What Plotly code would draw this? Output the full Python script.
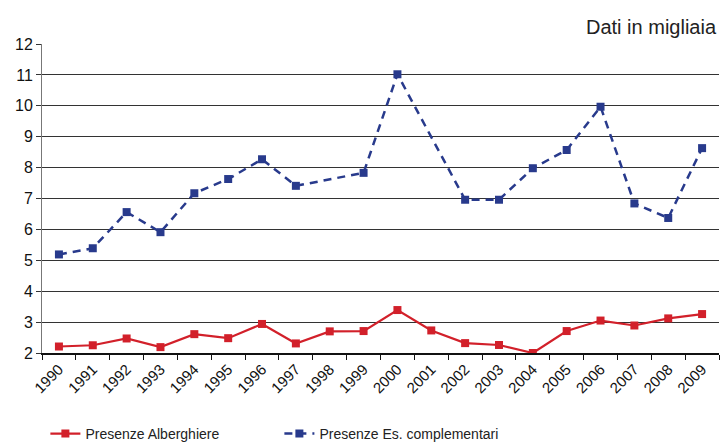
import plotly.graph_objects as go

years = [str(y) for y in range(1990, 2010)]
alberghiere = [2.21, 2.25, 2.47, 2.19, 2.61, 2.48, 2.94, 2.31, 2.70, 2.71,
               3.39, 2.73, 2.32, 2.26, 2.00, 2.71, 3.05, 2.89, 3.12, 3.26]
complementari = [5.19, 5.39, 6.56, 5.91, 7.17, 7.63, 8.27, 7.41, None, 7.83,
                 11.02, None, 6.96, 6.96, 7.98, 8.57, 9.97, 6.84, 6.37, 8.63]
y_ticks = list(range(2, 13))

RED = "#d2202a"
BLUE = "#283a8c"
xs = list(range(len(years)))

fig = go.Figure()
fig.add_trace(go.Scatter(
    x=xs, y=alberghiere, name="Presenze Alberghiere", mode="lines+markers",
    line=dict(color=RED, width=2.2),
    marker=dict(symbol="square", size=8, color=RED),
))
fig.add_trace(go.Scatter(
    x=xs, y=complementari, name="Presenze Es. complementari", mode="lines+markers",
    connectgaps=True,
    line=dict(color=BLUE, width=2.5, dash="8px,6px"),
    marker=dict(symbol="square", size=8, color=BLUE),
))

fig.update_layout(
    width=722, height=442,
    margin=dict(l=42, r=3, t=44, b=89, autoexpand=False),
    paper_bgcolor="white", plot_bgcolor="white",
    font=dict(family="Liberation Sans, Arial, sans-serif", color="#1a1a1a", size=14),
    showlegend=True,
    legend=dict(
        orientation="h", x=0.005, xanchor="left", y=-0.262, yanchor="middle",
        font=dict(family="Liberation Sans, Arial, sans-serif", size=14, color="#222"),
        entrywidth=189, itemwidth=30, traceorder="normal",
    ),
    annotations=[dict(
        text="Dati in migliaia", xref="paper", yref="paper", x=1.0, y=1.0,
        xanchor="right", yanchor="bottom", yshift=4, showarrow=False,
        font=dict(size=20, color="#222"),
    )],
)
fig.update_xaxes(
    range=[-0.5, len(years) - 0.5], automargin=False,
    tickmode="array", tickvals=xs, ticktext=years, tickangle=-45,
    ticks="", showgrid=False, zeroline=False,
    showline=True, linecolor="#111", linewidth=1.5,
    minor=dict(tickmode="array", tickvals=[i - 0.5 for i in range(len(years) + 1)],
               ticks="outside", ticklen=5, tickcolor="#111", tickwidth=1, showgrid=False),
    tickfont=dict(size=15, color="#111"),
)
fig.update_yaxes(
    range=[2, 12], automargin=False, tickmode="array", tickvals=y_ticks,
    ticks="outside", ticklen=5, tickcolor="#333",
    showgrid=True, gridcolor="#333", gridwidth=1,
    zeroline=False, showline=True, linecolor="#777", linewidth=1,
    tickfont=dict(size=16, color="#111"),
)

fig.write_html("out.html")
